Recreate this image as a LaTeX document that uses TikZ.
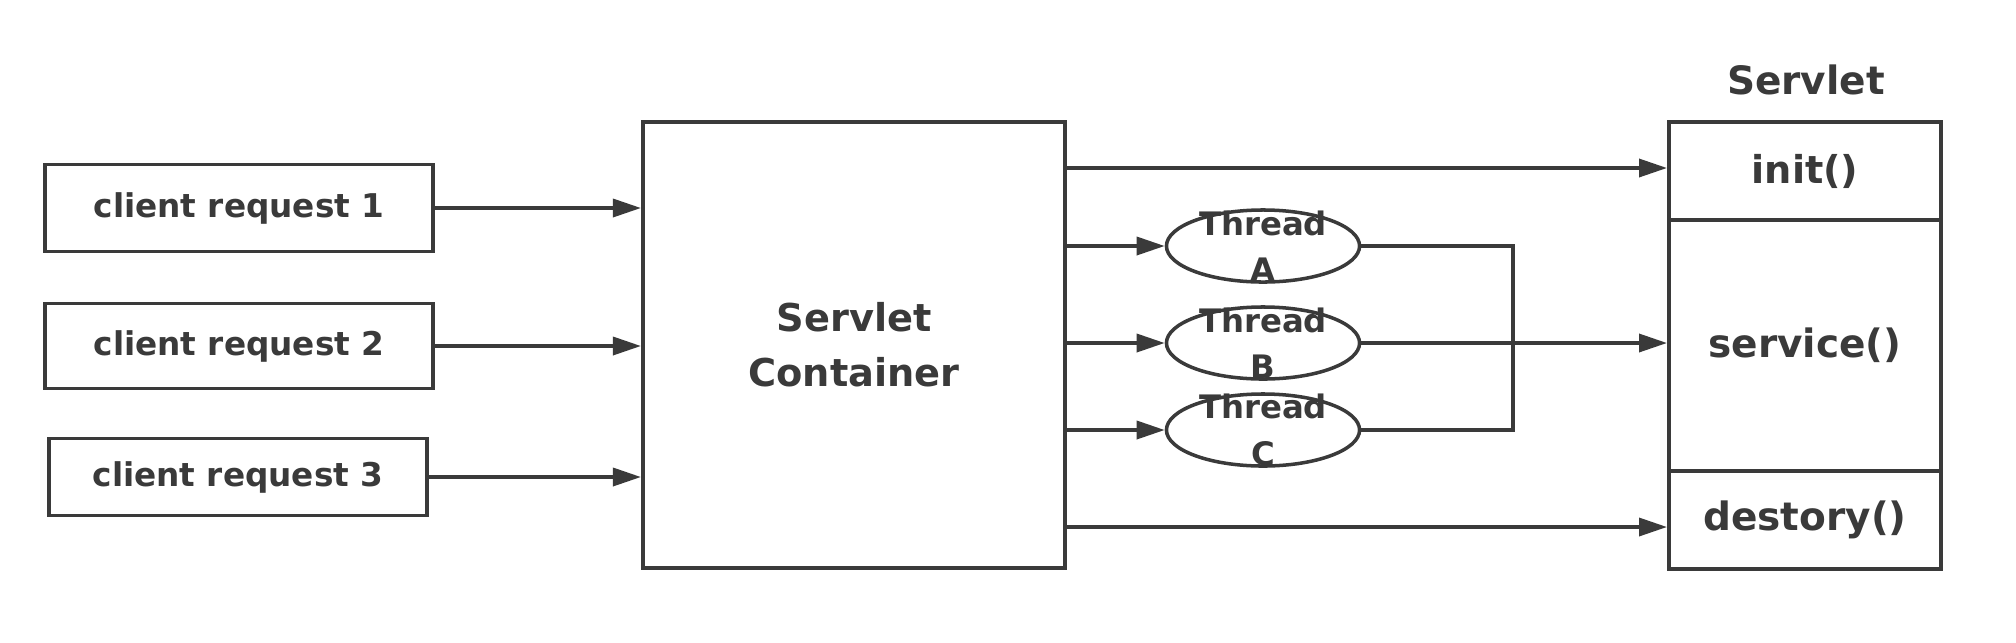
\documentclass[tikz,border=0pt]{standalone}
\usepackage{fontspec}
\setmainfont{DejaVu Sans}
\usetikzlibrary{shapes.geometric,arrows.meta}
\definecolor{ink}{HTML}{3A3A3A}
\tikzset{
  box/.style={draw=ink,line width=1.1pt,fill=white,text=ink,inner sep=0pt},
  thread/.style={draw=ink,ellipse,line width=1pt,minimum width=1.93cm,minimum height=0.72cm,inner sep=0pt},
  threadtxt/.style={text=ink,font=\bfseries\fontsize{9.2}{13.2}\selectfont,align=center,inner sep=0pt},
  arr/.style={draw=ink,line width=1pt,-{Triangle[length=0.28cm,width=0.18cm]}},
  wire/.style={draw=ink,line width=1pt}
}

\begin{document}
\begin{tikzpicture}[x=0.01cm,y=-0.01cm]
\useasboundingbox (0,0) rectangle (2016,642);
\node[box,minimum width=3.88cm,minimum height=0.87cm,font=\bfseries\fontsize{9.3}{11}\selectfont] (req1) at (239,208) {client request 1};
\node[box,minimum width=3.88cm,minimum height=0.85cm,font=\bfseries\fontsize{9.3}{11}\selectfont] (req2) at (239,346) {client request 2};
\node[box,minimum width=3.78cm,minimum height=0.77cm,font=\bfseries\fontsize{9.3}{11}\selectfont] (req3) at (238,477) {client request 3};
\node[box,minimum width=4.22cm,minimum height=4.46cm,align=center,font=\bfseries\fontsize{10.9}{15.6}\selectfont] (cont) at (854,345) {Servlet\\Container};

\node[thread,label={[threadtxt]center:Thread\\A}] (thA) at (1263,246) {};
\node[thread,label={[threadtxt]center:Thread\\B}] (thB) at (1263,343) {};
\node[thread,label={[threadtxt]center:Thread\\C}] (thC) at (1263,430) {};
\coordinate (join) at (1513,343);

\node[text=ink,font=\bfseries\fontsize{11.1}{13}\selectfont] (title) at (1806,80) {Servlet};
\node[box,minimum width=2.72cm,minimum height=0.98cm,font=\bfseries\fontsize{10.9}{13}\selectfont] (init) at (1805,171) {init()};
\node[box,minimum width=2.72cm,minimum height=2.51cm,font=\bfseries\fontsize{11.1}{13}\selectfont] (serv) at (1805,345.5) {service()};
\node[box,minimum width=2.72cm,minimum height=0.98cm,font=\bfseries\fontsize{11.1}{13}\selectfont] (dest) at (1805,520) {destory()};

\draw[arr] (req1.east) -- (req1.east -| cont.west);
\draw[arr] (req2.east) -- (req2.east -| cont.west);
\draw[arr] (req3.east) -- (req3.east -| cont.west);

\draw[arr] ([yshift=0.03cm]cont.east |- init.west) -- ([yshift=0.03cm]init.west);
\draw[arr] (cont.east |- thA.west) -- (thA.west);
\draw[arr] (cont.east |- thB.west) -- (thB.west);
\draw[arr] (cont.east |- thC.west) -- (thC.west);
\draw[arr] ([yshift=-0.07cm]cont.east |- dest.west) -- ([yshift=-0.07cm]dest.west);

\draw[wire] (thA.east) -- (thA.east -| join) -- (thC.east -| join) -- (thC.east);
\draw[arr] (thB.east) -- (thB.east -| serv.west);
\end{tikzpicture}
\end{document}
